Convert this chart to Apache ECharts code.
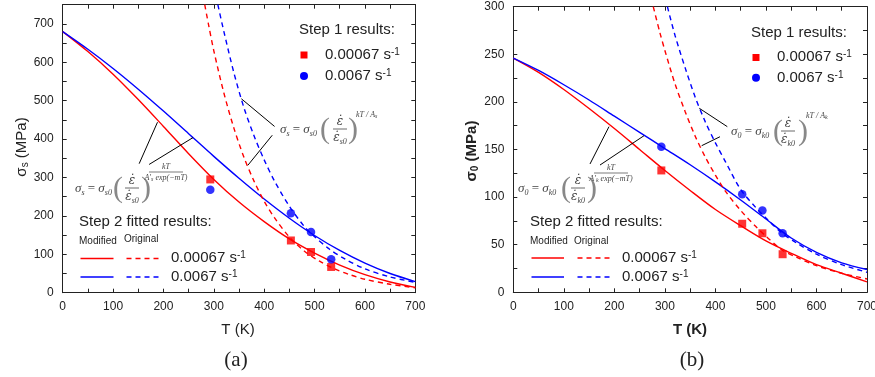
<!DOCTYPE html>
<html><head><meta charset="utf-8">
<script src="https://cdn.jsdelivr.net/npm/echarts@6/dist/echarts.min.js"></script>
<style>html,body{margin:0;padding:0;background:#fff}#c{width:875px;height:377px}</style>
</head><body><div id="c"></div>
<script>
// ---------- data ----------
const tempFit = [0,50,100,150,200,250,300,350,400,450,500,550,600,650,700];
// panel (a): sigma_s (MPa)
const aModSlow = [680,628,569,503,433,362,295,236,185,140,103,72,47,28,14];
const aModFast = [680,634,584,530,473,414,355,298,244,194,149,110,77,50,29];
const aOrigSlowT = [282,290,300,320,340,360,380,400,420,450,480,510,540,570,600,650,700];
const aOrigSlow  = [750,695,630,520,428,352,290,238,196,145,108,82,62,47,35,22,13];
const aOrigFastT = [308,320,340,360,380,400,420,450,480,500,530,560,600,650,700];
const aOrigFast  = [750,680,572,481,408,346,292,225,172,146,113,88,62,41,27];
const expT = [293,453,493,533];
const aExpSlow = [295,136,106,67];
const aExpFast = [268,207,158,87];
// panel (b): sigma_0 (MPa)
const bModSlow = [246,231,213,193,172,150,128,107,87,70,54,41,29,20,11];
const bModFast = [246,233,218,202,185,168,151,134,116,97,77,57,42,31,24];
const bOrigSlowT = [277,290,300,320,340,360,380,400,420,450,480,500,530,560,600,650,700];
const bOrigSlow  = [300,273,254,219,190,164,142,123,106,86,69,59,45,37,28,20,14];
const bOrigFastT = [305,320,340,360,380,400,420,450,480,500,530,560,600,650,700];
const bOrigFast  = [300,270,236,205,179,157,137,108,89,78,63,52,40,29,21];
const bExpSlow = [128,72,62,40];
const bExpFast = [153,103,86,62];
// annotation pointer segments (data units)
const aPointers = [[[151.8,336],[188.2,444]],[[171.6,334],[258.8,404]],[[420.6,433],[354.7,505]],[[416,410],[367.7,332]]];
const bPointers = [[[151.8,134.8],[189.4,174]],[[171.6,133.7],[258.7,164.5]],[[423.5,174],[368.1,193.3]],[[409,163.4],[372.8,154]]];
const xTicks = {min:0, max:700, step:50, labelStep:100};
const aY = {min:0, max:750, step:50, labelStep:100};
const bY = {min:0, max:300, step:25, labelStep:50};
const rateSlow = '0.00067 s';
const rateFast = '0.0067 s';

// ---------- helpers ----------
const RED = '#ff0000', BLUE = '#0000ff', AX = '#222';
const zip = (xs, ys) => xs.map((x, i) => [x, ys[i]]);
function axis(kind, grid, pos, cfg, showLabel) {
  return {
    type: 'value', gridIndex: grid, position: pos,
    min: cfg.min, max: cfg.max, interval: cfg.step,
    axisLine: {show: true, onZero: false, lineStyle: {color: AX, width: 1}},
    axisTick: {show: true, inside: true, length: 4, lineStyle: {color: AX, width: 1}},
    axisLabel: {show: showLabel, color: AX, fontSize: 12, fontFamily: 'Liberation Sans', margin: kind === 'x' ? 8 : 9,
      formatter: v => (v % cfg.labelStep === 0 ? String(v) : '')},
    splitLine: {show: false}
  };
}
function lineSeries(xi, yi, data, color, dashed) {
  return {type: 'line', xAxisIndex: xi, yAxisIndex: yi, data, showSymbol: false, smooth: 0.3,
    lineStyle: {color, width: 1.4, type: dashed ? [5, 4] : 'solid'}, clip: true, z: 2};
}
function scatterSeries(xi, yi, data, color, sym, size, pointers) {
  const s = {type: 'scatter', xAxisIndex: xi, yAxisIndex: yi, data, symbol: sym, symbolSize: size,
    itemStyle: {color}, z: 4};
  if (pointers) s.markLine = {silent: true, symbol: ['none', 'none'], label: {show: false},
    lineStyle: {color: '#000', width: 1, type: 'solid'}, animation: false,
    data: pointers.map(p => [{coord: p[0]}, {coord: p[1]}])};
  return s;
}
const G = [];
function text(x, y, t, o, el) {
  G.push(Object.assign({type: 'text', x, y, silent: true, z: 10,
    style: Object.assign({text: t, fill: AX, fontSize: 15, fontFamily: 'Liberation Sans', align: 'left', verticalAlign: 'middle'}, o || {})}, el || {}));
}
function seg(x1, y1, x2, y2, color, dash, w) {
  G.push({type: 'line', silent: true, z: 10, shape: {x1, y1, x2, y2},
    style: {stroke: color, lineWidth: w || 1.5, lineDash: dash ? [5, 4] : null}});
}
const supRich = {sup: {fontSize: 10, verticalAlign: 'top', fontFamily: 'Liberation Sans', fill: AX}};
function rateText(x, y, t) { text(x, y, t + '{sup|-1}', {rich: supRich, fontSize: 15}); }

const FC = '#444', FF = 'Liberation Serif';
const fRich = {
  m: {fontSize: 13, fontStyle: 'italic', fontFamily: FF, fill: FC, lineHeight: 15},
  n: {fontSize: 13, fontFamily: FF, fill: FC, lineHeight: 15},
  e: {fontSize: 12, fontStyle: 'italic', fontFamily: 'DejaVu Serif', fill: FC, lineHeight: 15},
  sb: {fontSize: 8, fontStyle: 'italic', fontFamily: FF, fill: FC, verticalAlign: 'bottom', lineHeight: 9}
};
const eRich = {
  m: {fontSize: 8, fontStyle: 'italic', fontFamily: FF, fill: FC, lineHeight: 9},
  sb: {fontSize: 6, fontStyle: 'italic', fontFamily: FF, fill: FC, verticalAlign: 'bottom', lineHeight: 6}
};
function formula(f) {
  text(f.x, f.y, '{m|σ}{sb|' + f.a + '}{n| = }{m|σ}{sb|' + f.b + '}', {rich: fRich});
  text(f.pl, f.y, '(', {fontSize: 30, fontFamily: FF, fill: '#888'});
  text(f.pr, f.y, ')', {fontSize: 30, fontFamily: FF, fill: '#888'});
  text(f.fx, f.y - 8, '{e|ε̇}', {rich: fRich, align: 'center'});
  seg(f.fx - 7, f.y - 1, f.fx + 7, f.y - 1, FC, false, 0.8);
  text(f.fx, f.y + 8, '{e|ε̇}{sb|' + f.b + '}', {rich: fRich, align: 'center'});
  if (f.exp) {
    text(f.ex, f.ey - 5, '{m|kT}', {rich: eRich, align: 'center'});
    seg(f.ex - 17, f.ey, f.ex + 17, f.ey, FC, false, 0.7);
    text(f.ex, f.ey + 6, "{m|A′}{sb|" + f.c + "}{m| exp(−mT)}", {rich: eRich, align: 'center'});
  } else {
    text(f.ex, f.ey, "{m|kT / A}{sb|" + f.c + "}", {rich: eRich});
  }
}
const nameRich = (bold) => ({
  m: {fontSize: 15, fontWeight: bold ? 'bold' : 'normal', fontFamily: 'Liberation Sans', fill: AX, lineHeight: 17},
  sb: {fontSize: 10, fontWeight: bold ? 'bold' : 'normal', fontFamily: 'Liberation Sans', fill: AX, verticalAlign: 'bottom', lineHeight: 11}
});

// ---------- annotations / legends ----------
// panel (a)
text(299, 30, 'Step 1 results:');
G.push({type: 'rect', silent: true, z: 10, shape: {x: 300.5, y: 51.5, width: 7, height: 7}, style: {fill: RED}});
G.push({type: 'circle', silent: true, z: 10, shape: {cx: 304, cy: 76, r: 4}, style: {fill: BLUE}});
rateText(325, 55, rateSlow);
rateText(325, 76, rateFast);
text(79, 222, 'Step 2 fitted results:');
text(79, 241, 'Modified', {fontSize: 10});
text(124, 239, 'Original', {fontSize: 10});
seg(80.5, 258.5, 113.5, 258.5, RED, false);
seg(126.5, 258.5, 160.5, 258.5, RED, true);
seg(80.5, 277, 113.5, 277, BLUE, false);
seg(126.5, 277, 160.5, 277, BLUE, true);
rateText(171, 258, rateSlow);
rateText(171, 277, rateFast);
formula({x: 75, y: 189, a: 's', b: 's0', c: 's', pl: 113, pr: 141, fx: 132, exp: true, ex: 166, ey: 172});
formula({x: 280, y: 130, a: 's', b: 's0', c: 's', pl: 320, pr: 348, fx: 340, exp: false, ex: 356, ey: 115});
text(22, 147, '{m|σ}{sb|s}{m| (MPa)}', {align: 'center', rich: nameRich(false)}, {rotation: Math.PI / 2});
text(238, 330, 'T (K)', {align: 'center'});
text(236, 360, '(a)', {align: 'center', fontSize: 21, fontFamily: 'Liberation Serif'});
// panel (b)
text(751, 33, 'Step 1 results:');
G.push({type: 'rect', silent: true, z: 10, shape: {x: 752.5, y: 54, width: 7, height: 7}, style: {fill: RED}});
G.push({type: 'circle', silent: true, z: 10, shape: {cx: 756, cy: 77.7, r: 4}, style: {fill: BLUE}});
rateText(777, 57, rateSlow);
rateText(777, 78, rateFast);
text(530, 222, 'Step 2 fitted results:');
text(530, 241, 'Modified', {fontSize: 10});
text(574, 241, 'Original', {fontSize: 10});
seg(531.5, 258, 564, 258, RED, false);
seg(577.5, 258, 611, 258, RED, true);
seg(531.5, 277, 564, 277, BLUE, false);
seg(577.5, 277, 611, 277, BLUE, true);
rateText(622, 258, rateSlow);
rateText(622, 277, rateFast);
formula({x: 518, y: 189, a: '0', b: 'k0', c: 'k', pl: 561, pr: 587, fx: 578, exp: true, ex: 611, ey: 173});
formula({x: 731, y: 132, a: '0', b: 'k0', c: 'k', pl: 773, pr: 798, fx: 788, exp: false, ex: 806, ey: 116});
text(472, 151, '{m|σ}{sb|0}{m| (MPa)}', {align: 'center', rich: nameRich(true)}, {rotation: Math.PI / 2});
text(690, 330, 'T (K)', {align: 'center', fontWeight: 'bold'});
text(692, 360, '(b)', {align: 'center', fontSize: 21, fontFamily: 'Liberation Serif'});

// ---------- chart ----------
const chart = echarts.init(document.getElementById('c'), null, {renderer: 'canvas'});
chart.setOption({
  animation: false,
  backgroundColor: '#fff',
  grid: [
    {left: 62.7, right: 459.7, top: 4.7, bottom: 84.3, outerBoundsMode: 'none', containLabel: false},
    {left: 513.3, right: 8, top: 6.7, bottom: 84.7, outerBoundsMode: 'none', containLabel: false}
  ],
  xAxis: [
    axis('x', 0, 'bottom', xTicks, true), axis('x', 0, 'top', xTicks, false),
    axis('x', 1, 'bottom', xTicks, true), axis('x', 1, 'top', xTicks, false)
  ],
  yAxis: [
    axis('y', 0, 'left', aY, true), axis('y', 0, 'right', aY, false),
    axis('y', 1, 'left', bY, true), axis('y', 1, 'right', bY, false)
  ],
  series: [
    lineSeries(0, 0, zip(tempFit, aModSlow), RED, false),
    lineSeries(0, 0, zip(tempFit, aModFast), BLUE, false),
    lineSeries(0, 0, zip(aOrigSlowT, aOrigSlow), RED, true),
    lineSeries(0, 0, zip(aOrigFastT, aOrigFast), BLUE, true),
    scatterSeries(0, 0, zip(expT, aExpSlow), RED, 'rect', 8, aPointers),
    scatterSeries(0, 0, zip(expT, aExpFast), BLUE, 'circle', 8.5),
    lineSeries(2, 2, zip(tempFit, bModSlow), RED, false),
    lineSeries(2, 2, zip(tempFit, bModFast), BLUE, false),
    lineSeries(2, 2, zip(bOrigSlowT, bOrigSlow), RED, true),
    lineSeries(2, 2, zip(bOrigFastT, bOrigFast), BLUE, true),
    scatterSeries(2, 2, zip(expT, bExpSlow), RED, 'rect', 8, bPointers),
    scatterSeries(2, 2, zip(expT, bExpFast), BLUE, 'circle', 8.5)
  ],
  graphic: G
});
</script></body></html>
